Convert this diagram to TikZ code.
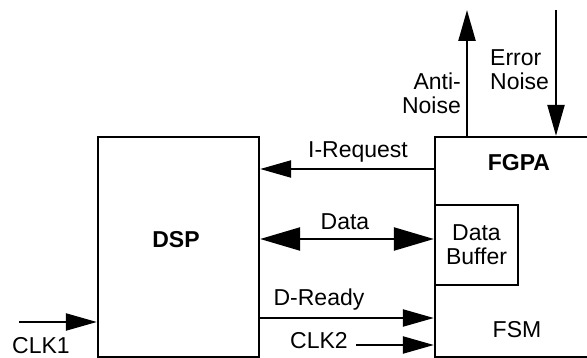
\documentclass[tikz,border=0pt]{standalone}
\usepackage{fontspec}
\setmainfont{Liberation Sans}
\usetikzlibrary{arrows.meta}
\begin{document}
\begin{tikzpicture}[x=1pt,y=-1pt,
  box/.style={draw,line width=2.3pt,inner sep=0pt},
  lbl/.style={font=\fontsize{23}{24}\selectfont,inner sep=0pt,align=center},
  bold/.style={font=\fontsize{23}{24}\selectfont\bfseries},
  wire/.style={line width=2.3pt},
  tip/.style={-{Triangle[length=31pt,width=17pt]}},
  bigtip/.style={{Triangle[length=40pt,width=23pt]}-{Triangle[length=40pt,width=23pt]}},
]
\useasboundingbox (0,0) rectangle (587,358);
\clip (0,0) rectangle (587,358);

% blocks
\node[box,minimum width=161pt,minimum height=220pt] (dsp) at (178.5,247) {};
\node[box,minimum width=180pt,minimum height=220pt] (fgpa) at (525,247) {};
\node[box,fill=white,minimum width=83pt,minimum height=80pt] (buf) at (476.5,245) {};

% block captions
\node[lbl,bold] (dsptxt) at (176,240) {DSP};
\node[lbl,bold] (fgpatxt) at (519,163) {FGPA};
\node[lbl] (buftxt) at (476.5,245) {Data\\Buffer};
\node[lbl] (fsm) at (517,330) {FSM};

% connector levels
\coordinate (yreq) at (0,169);
\coordinate (ydata) at (0,239);
\coordinate (yrdy) at (0,318);
\coordinate (yclk2) at (0,345);
\coordinate (xanti) at (467,0);
\coordinate (xerr) at (556,0);
\coordinate (antiend) at (467,10);
\coordinate (errstart) at (556,10);
\coordinate (clk1start) at (19,322);
\coordinate (clk2start) at (356,345);

% connectors
\draw[wire,tip] (fgpa.west |- yreq) -- (dsp.east |- yreq);
\draw[wire,bigtip] (dsp.east |- ydata) -- (buf.west |- ydata);
\draw[wire,tip] (dsp.east |- yrdy) -- (fgpa.west |- yrdy);
\draw[wire,tip] (clk2start) -- (fgpa.west |- yclk2);
\draw[wire,tip] (clk1start) -- (dsp.west |- clk1start);
\draw[wire,tip] (fgpa.north -| xanti) -- (antiend);
\draw[wire,tip] (errstart) -- (fgpa.north -| xerr);

% signal labels
\node[lbl] (lreq) at (358,152) {I-Request};
\node[lbl] (ldata) at (345,222) {Data};
\node[lbl] (lrdy) at (319,300) {D-Ready};
\node[lbl] (lclk2) at (319,341) {CLK2};
\node[lbl] (lclk1) at (41,346) {CLK1};
\node[lbl,align=right,anchor=east] (lanti) at (461,93) {Anti-\\Noise};
\node[lbl,align=left,anchor=west] (lerr) at (490,70) {Error\\Noise};
\end{tikzpicture}
\end{document}
